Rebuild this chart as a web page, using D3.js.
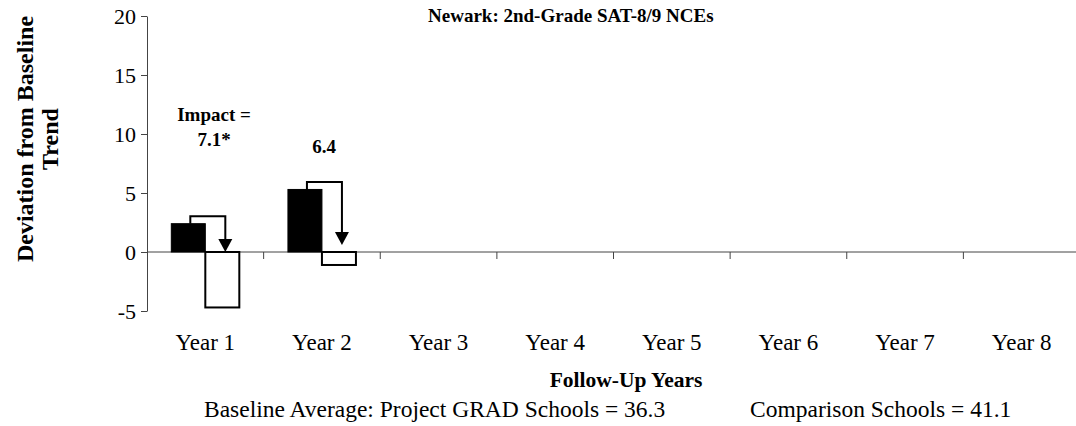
<!DOCTYPE html>
<html>
<head>
<meta charset="utf-8">
<script src="https://cdn.jsdelivr.net/npm/d3@7"></script>
<style>
  body { margin: 0; background: #fff; }
  text { font-family: "Liberation Serif", "Times New Roman", serif; fill: #000; }
</style>
</head>
<body>
<svg id="chart" width="1076" height="426"></svg>
<script>
var years = ["Year 1", "Year 2", "Year 3", "Year 4", "Year 5", "Year 6", "Year 7", "Year 8"];
var gradValues = [2.4, 5.3];
var compValues = [-4.7, -1.1];
var impactLabels = [["Impact =", "7.1*"], ["6.4"]];
var arrowEnds = [0, 0.6];
var yTicks = [-5, 0, 5, 10, 15, 20];

var svg = d3.select("#chart");

var x = d3.scaleBand()
    .domain(years)
    .range([147, 1080]);

var y = d3.scaleLinear()
    .domain([-5, 20])
    .range([311, 16]);

var barW = 34;
var gap = x.bandwidth() / 2 - barW;

// y axis
var yAxis = svg.append("g")
    .attr("transform", "translate(147,0)")
    .call(d3.axisLeft(y).tickValues(yTicks).tickSize(6).tickSizeOuter(0).tickPadding(5)
      .tickFormat((d) => String(d)));
yAxis.attr("font-family", null);
yAxis.select(".domain").attr("stroke", "#444");
yAxis.selectAll(".tick line").attr("stroke", "#444");
yAxis.selectAll("text")
    .style("font-size", "22px");

// x axis line at zero
svg.append("line")
    .attr("x1", 147).attr("x2", 1080)
    .attr("y1", y(0)).attr("y2", y(0))
    .attr("stroke", "#444");

// ticks between categories
svg.append("g").selectAll("line")
    .data(years.slice(1))
    .join("line")
    .attr("x1", (d) => x(d)).attr("x2", (d) => x(d))
    .attr("y1", y(0)).attr("y2", y(0) + 7)
    .attr("stroke", "#444");

// year labels
svg.append("g").selectAll("text")
    .data(years)
    .join("text")
    .attr("x", (d) => x(d) + x.bandwidth() / 2)
    .attr("y", 350)
    .attr("text-anchor", "middle")
    .style("font-size", "23px")
    .text((d) => d);

// bars
var bars = svg.append("g");
bars.selectAll("rect.grad")
    .data(gradValues)
    .join("rect")
    .attr("class", "grad")
    .attr("x", (d, i) => x(years[i]) + gap)
    .attr("width", barW)
    .attr("y", (d) => y(Math.max(0, d)))
    .attr("height", (d) => Math.abs(y(d) - y(0)))
    .attr("fill", "#000")
    .attr("stroke", "#000")
    .attr("stroke-width", 1);

bars.selectAll("rect.comp")
    .data(compValues)
    .join("rect")
    .attr("class", "comp")
    .attr("x", (d, i) => x(years[i]) + gap + barW)
    .attr("width", barW)
    .attr("y", (d) => y(Math.max(0, d)))
    .attr("height", (d) => Math.abs(y(d) - y(0)))
    .attr("fill", "#fff")
    .attr("stroke", "#000")
    .attr("stroke-width", 2);

// impact arrows
var arrows = svg.append("g");
gradValues.forEach(function(v, i) {
  var x1 = x(years[i]) + gap + barW / 2 + 2;
  var x2 = x(years[i]) + gap + barW * 1.5 + 3;
  var top = y(v) - 7.5;
  var tip = y(arrowEnds[i]);
  arrows.append("path")
      .attr("d", `M${x1},${y(v)} V${top} H${x2} V${tip - 12}`)
      .attr("fill", "none")
      .attr("stroke", "#000")
      .attr("stroke-width", 2);
  arrows.append("path")
      .attr("d", `M${x2 - 7},${tip - 13} L${x2 + 7},${tip - 13} L${x2},${tip} Z`)
      .attr("fill", "#000");
});

// impact labels
var labelX = [214, 324];
var labelY = [[121, 146], [153]];
impactLabels.forEach(function(lines, i) {
  lines.forEach(function(t, j) {
    svg.append("text")
        .attr("x", labelX[i])
        .attr("y", labelY[i][j])
        .attr("text-anchor", "middle")
        .style("font-size", "19px")
        .style("font-weight", "bold")
        .text(t);
  });
});

// title
svg.append("text")
    .attr("x", 428).attr("y", 22)
    .style("font-size", "19px")
    .style("font-weight", "bold")
    .text("Newark: 2nd-Grade SAT-8/9 NCEs");

// y axis title
var yt = svg.append("text")
    .attr("transform", "translate(33,139) rotate(-90)")
    .attr("text-anchor", "middle")
    .style("font-size", "24px")
    .style("font-weight", "bold");
yt.append("tspan").attr("x", 0).attr("dy", 0).text("Deviation from Baseline");
yt.append("tspan").attr("x", 0).attr("dy", 25).text("Trend");

// x axis title
svg.append("text")
    .attr("x", 626).attr("y", 387)
    .attr("text-anchor", "middle")
    .style("font-size", "21.5px")
    .style("font-weight", "bold")
    .text("Follow-Up Years");

// baseline note
svg.append("text")
    .attr("x", 204).attr("y", 417)
    .style("font-size", "23.5px")
    .text("Baseline Average: Project GRAD Schools = 36.3");
svg.append("text")
    .attr("x", 750).attr("y", 417)
    .style("font-size", "23.5px")
    .text("Comparison Schools = 41.1");
</script>
</body>
</html>
